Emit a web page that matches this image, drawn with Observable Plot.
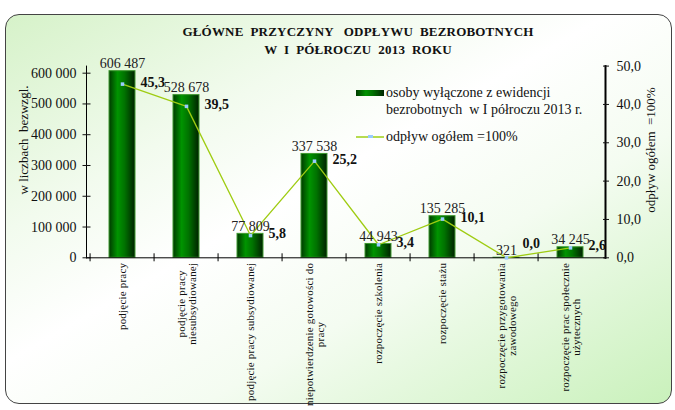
<!DOCTYPE html>
<html><head><meta charset="utf-8">
<script src="https://cdn.jsdelivr.net/npm/d3@7"></script>
<script src="https://cdn.jsdelivr.net/npm/@observablehq/plot@0.6"></script>
<style>
body{margin:0;background:#fff;}
#wrap{position:relative;width:675px;height:410px;overflow:hidden;font-family:"Liberation Serif","Times New Roman",serif;color:#111;}
#bg{position:absolute;left:5px;top:14px;width:665px;height:388px;border:1px solid #444;border-radius:14px;
 background:linear-gradient(150deg,#d6f2c9 0%,#f2fbee 28%,#ffffff 45%,#f4fcf1 65%,#c9f1bb 100%);}
#plot{position:absolute;left:0;top:0;}
.abs{position:absolute;white-space:pre;}
.title{left:108px;width:500px;text-align:center;font-weight:bold;font-size:13px;line-height:18px;letter-spacing:0.2px;}
.leg{font-size:14px;line-height:16px;}
.rot{transform:translate(-50%,-50%) rotate(-90deg);font-size:13px;}
</style></head>
<body>
<div id="wrap">
 <div id="bg"></div>
 <div id="plot"></div>
 <div class="abs title" style="top:23px">GŁÓWNE  PRZYCZYNY   ODPŁYWU  BEZROBOTNYCH</div>
 <div class="abs title" style="top:41px">W  I  PÓŁROCZU  2013  ROKU</div>
 <div class="abs" style="left:356px;top:90px;width:28px;height:6px;background:linear-gradient(90deg,#003a00,#009200 35%,#007000 60%,#002400);"></div>
 <div class="abs leg" style="left:386px;top:85px">osoby wyłączone z ewidencji</div>
 <div class="abs leg" style="left:386px;top:102px">bezrobotnych  w I półroczu 2013 r.</div>
 <div class="abs" style="left:356px;top:136px;width:28px;height:2px;background:#b6dc50;"></div>
 <div class="abs" style="left:368px;top:135px;width:5px;height:3px;background:#99ccff;"></div>
 <div class="abs leg" style="left:386px;top:129px">odpływ ogółem =100%</div>
 <div class="abs rot" style="left:24px;top:140px">w liczbach  bezwzgl.</div>
 <div class="abs rot" style="left:651px;top:150px">odpływ ogółem  =100%</div>
</div>
<script>
const categories = [
  "podjęcie pracy",
  "podjęcie pracy\nniesubsydiowanej",
  "podjęcie pracy subsydiowanej",
  "niepotwierdzenie gotowości do\npracy",
  "rozpoczęcie szkolenia",
  "rozpoczęcie stażu",
  "rozpoczęcie przygotowania\nzawodowego",
  "rozpoczęcie prac społecznie\nużytecznych"
];
const persons = [606487, 528678, 77809, 337538, 44943, 135285, 321, 34245];
const percents = [45.3, 39.5, 5.8, 25.2, 3.4, 10.1, 0.0, 2.6];
const leftTicks = [0, 100000, 200000, 300000, 400000, 500000, 600000];
const rightTicks = [0, 10, 20, 30, 40, 50];

const W = 675, H = 410, ML = 86, MR = 70, MT = 65.6, MB = 152.7;
const yMax = 623000, k = yMax / 50;
const step = (W - ML - MR) / categories.length;
const rows = categories.map((c, i) => ({cat: c, n: persons[i], p: percents[i]}));
const fmtN = d => d3.format(",")(d).replace(/,/g, " ");
const fmtP = d => d.toFixed(1).replace(".", ",");
const blank = () => "";

const chart = Plot.plot({
  width: W, height: H,
  marginLeft: ML, marginRight: MR, marginTop: MT, marginBottom: MB,
  style: {background: "transparent", fontFamily: "Liberation Serif, serif", fontSize: "14px", color: "#111", overflow: "visible"},
  x: {domain: categories, paddingInner: 0.6, paddingOuter: 0.3},
  y: {domain: [0, yMax], axis: null},
  marks: [
    Plot.barY(rows, {x: "cat", y: "n", fill: "url(#barGrad)", stroke: "#3f9a30", strokeWidth: 1}),
    Plot.frame({anchor: "left", stroke: "#000"}),
    Plot.frame({anchor: "bottom", stroke: "#000"}),
    Plot.frame({anchor: "right", stroke: "#000", strokeWidth: 2}),
    Plot.axisY(leftTicks, {anchor: "left", tickSize: 8, dx: 4.5, tickFormat: blank, label: null}),
    Plot.axisY(leftTicks, {anchor: "left", tickSize: 0, tickPadding: 10, tickFormat: fmtN, fontSize: 14, label: null}),
    Plot.axisY(rightTicks.map(v => v * k), {anchor: "right", tickSize: 6, dx: -3, tickFormat: blank, label: null}),
    Plot.axisY(rightTicks.map(v => v * k), {anchor: "right", tickSize: 0, tickPadding: 11, tickFormat: d => fmtP(d / k), fontSize: 14, label: null}),
    Plot.ruleX(categories, {x: d => d, y1: 0, y2: 0, insetTop: -4, insetBottom: -4, dx: -step / 2, stroke: "#000"}),
    Plot.axisX({tickRotate: -90, tickSize: 0, tickPadding: 5, fontSize: 11, label: null}),
    Plot.line(rows, {x: "cat", y: d => d.p * k, stroke: "#9fcc12", strokeWidth: 1.3}),
    Plot.dot(rows, {x: "cat", y: d => d.p * k, symbol: "square", r: 2, fill: "#99ccff", stroke: null}),
    Plot.text(rows, {x: "cat", y: "n", text: d => fmtN(d.n), lineAnchor: "bottom", dy: -3, fontSize: 14, fill: "#222"}),
    Plot.text(rows.filter(d => d.p > 0), {x: "cat", y: d => d.p * k, text: d => fmtP(d.p), textAnchor: "start", dx: 18, dy: -2, fontWeight: "bold", fontSize: 14, fill: "#111"}),
    Plot.text(rows.filter(d => d.p === 0), {x: "cat", y: d => d.p * k, text: d => fmtP(d.p), textAnchor: "start", dx: 16, dy: -14, fontWeight: "bold", fontSize: 14, fill: "#111"})
  ]
});

const svg = chart.tagName.toLowerCase() === "svg" ? chart : chart.querySelector("svg");
const ns = "http://www.w3.org/2000/svg";
const defs = document.createElementNS(ns, "defs");
defs.innerHTML = '<linearGradient id="barGrad" x1="0" x2="1" y1="0" y2="0">' +
  '<stop offset="0" stop-color="#003a00"/><stop offset="0.33" stop-color="#009400"/>' +
  '<stop offset="0.6" stop-color="#007200"/><stop offset="1" stop-color="#002200"/></linearGradient>';
svg.insertBefore(defs, svg.firstChild);
document.getElementById("plot").appendChild(chart);

svg.querySelectorAll('g[aria-label="x-axis tick label"] text').forEach(t => {
  t.style.letterSpacing = "0.2px";
  const sp = [...t.querySelectorAll("tspan")];
  if (sp.length < 2) return;
  const L = sp.map(s => s.getComputedTextLength());
  const M = Math.max(...L);
  sp.forEach((s, i) => s.setAttribute("x", -(M - L[i]) / 2));
});
</script>
</body></html>
